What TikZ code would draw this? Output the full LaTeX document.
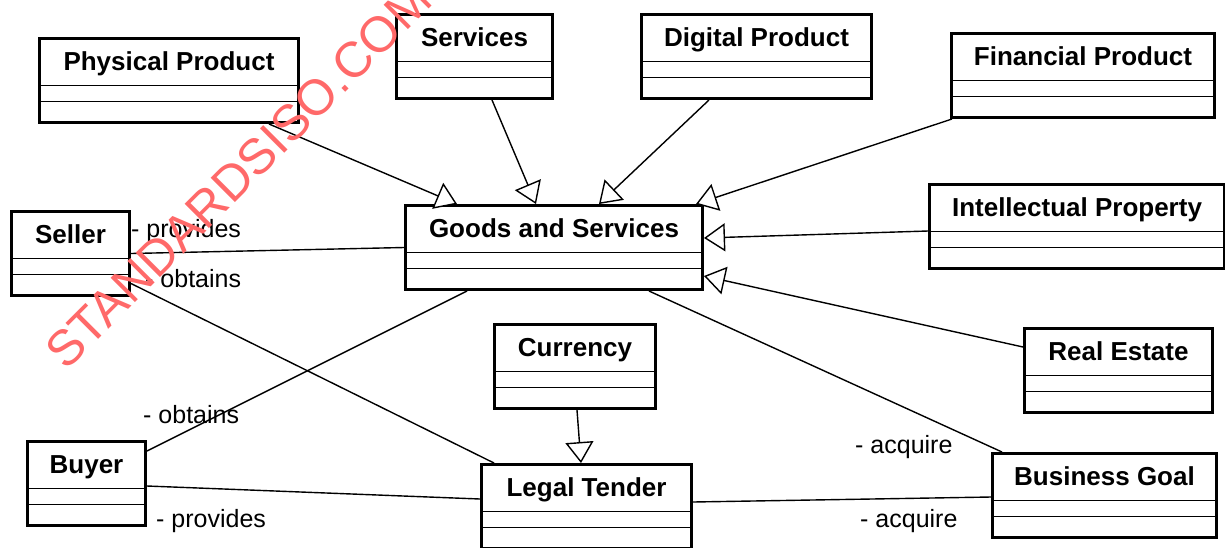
\documentclass[tikz,border=0pt]{standalone}
\usepackage{fontspec}
\setmainfont{Liberation Sans}
\usetikzlibrary{arrows.meta}
\definecolor{wmred}{RGB}{255,105,105}

\begin{document}
\begin{tikzpicture}[x=1pt, y=-1pt,
	box/.style = {draw, line width=3pt, anchor=north west, minimum height=84pt, inner sep=0pt,
		text height=32pt, text depth=52pt, font=\bfseries\fontsize{26}{26}\selectfont,
		path picture={\draw[line width=1.6pt]
			([yshift=-47pt]path picture bounding box.north west) -- ([yshift=-47pt]path picture bounding box.north east)
			([yshift=-63pt]path picture bounding box.north west) -- ([yshift=-63pt]path picture bounding box.north east);}},
	gen/.style = {line width=1.4pt, -{Triangle[fill=white, length=21pt, width=28pt]}},
	assoc/.style = {line width=1.4pt},
	role/.style = {anchor=base west, inner sep=0pt, font=\fontsize{25}{25}\selectfont}]
		\useasboundingbox (0,0) rectangle (1225,547);
		\node[box, minimum width=259pt] (1) at (38,37) {Physical Product};
		\node[box, minimum width=156pt] (2) at (395,13) {Services};
		\node[box, minimum width=230pt] (3) at (640,13) {Digital Product};
		\node[box, minimum width=263pt] (4) at (950,32) {Financial Product};
		\node[box, minimum width=297pt] (5) at (404,204) {Goods and Services};
		\node[box, minimum width=118pt] (6) at (10,210) {Seller};
		\node[box, minimum width=295pt] (7) at (928,183) {Intellectual Property};
		\node[box, minimum width=188pt] (8) at (1023,327) {Real Estate};
		\node[box, minimum width=161pt] (9) at (493,323) {Currency};
		\node[box, minimum width=118pt] (10) at (26,440) {Buyer};
		\node[box, minimum width=210pt] (11) at (480,463) {Legal Tender};
		\node[box, minimum width=224pt] (12) at (991,452) {Business Goal};
		\draw[gen] ([xshift=231pt]1.south west) -- ([xshift=53pt]5.north west);
		\draw[gen] ([xshift=97pt]2.south west) -- ([xshift=132pt]5.north west);
		\draw[gen] ([xshift=69pt]3.south west) -- ([xshift=195pt]5.north west);
		\draw[gen] ([xshift=2pt]4.south west) -- ([xshift=292pt]5.north west);
		\draw[gen] ([yshift=-48pt]7.north west) -- ([yshift=-34pt]5.north east);
		\draw[gen] ([yshift=-20pt]8.north west) -- ([yshift=-72pt]5.north east);
		\draw[gen] ([xshift=84pt]9.south west) -- ([xshift=101pt]11.north west);
		\draw[assoc] (6.east) -- (5.west);
		\draw[assoc] ([yshift=-30pt]6.east) -- ([xshift=14pt]11.north west);
		\draw[assoc] ([xshift=63pt]5.south west) -- ([yshift=-11pt]10.north east);
		\draw[assoc] ([yshift=-46pt]10.north east) -- ([yshift=-36pt]11.north west);
		\draw[assoc] ([xshift=245pt]5.south west) -- ([xshift=11pt]12.north west);
		\draw[assoc] ([yshift=-39pt]11.north east) -- ([yshift=-45pt]12.north west);
		\node[role] (r1) at (131,237) {- provides};
		\node[role] (r2) at (145,287) {- obtains};
		\node[role] (r3) at (143,423) {- obtains};
		\node[role] (r4) at (156,527) {- provides};
		\node[role] (r5) at (855,453) {- acquire};
		\node[role] (r6) at (860,527) {- acquire};
		\node[rotate=45, anchor=base west, inner sep=0pt, text=wmred, font=\fontsize{50}{50}\selectfont] (wm) at (66,372) {STANDARDSISO.COM :};
	\end{tikzpicture}
\end{document}
